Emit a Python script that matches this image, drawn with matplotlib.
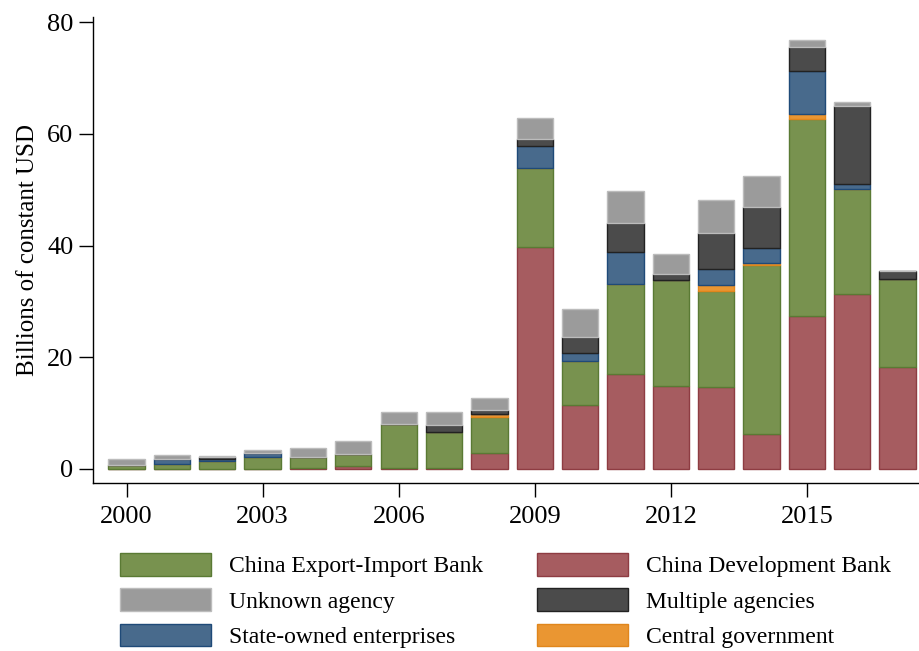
import matplotlib
matplotlib.use("Agg")
import matplotlib.pyplot as plt
import numpy as np

years = list(range(2000, 2018))

# Billions of constant USD, by lending agency (stacking order bottom -> top)
cdb      = [0.0, 0.0, 0.0, 0.0, 0.1, 0.54, 0.1, 0.1, 2.86, 39.7, 11.45, 17.05, 14.85, 14.6, 6.2, 27.4, 31.3, 18.2]
exim     = [0.66, 0.95, 1.43, 2.09, 2.0, 2.2, 7.9, 6.58, 6.5, 14.2, 7.8, 16.1, 18.95, 17.2, 30.3, 35.3, 18.8, 15.8]
central  = [0.0, 0.0, 0.0, 0.0, 0.0, 0.0, 0.0, 0.0, 0.54, 0.0, 0.0, 0.0, 0.0, 1.1, 0.3, 0.9, 0.0, 0.0]
soe      = [0.0, 0.9, 0.3, 0.77, 0.0, 0.0, 0.0, 0.0, 0.0, 3.9, 1.6, 5.6, 0.0, 2.9, 2.7, 7.6, 0.9, 0.0]
multiple = [0.0, 0.0, 0.36, 0.0, 0.0, 0.0, 0.0, 1.12, 0.65, 1.2, 2.75, 5.2, 1.14, 6.4, 7.4, 4.3, 14.0, 1.4]
unknown  = [1.2, 0.7, 0.24, 0.6, 1.6, 2.33, 2.25, 2.45, 2.2, 3.9, 4.95, 5.75, 3.56, 5.9, 5.5, 1.2, 0.7, 0.0]

series = [
    ("China Development Bank", cdb, "#a65c60", "#8e3c42"),
    ("China Export-Import Bank", exim, "#78924f", "#5a7a34"),
    ("Central government", central, "#ea9632", "#e0861c"),
    ("State-owned enterprises", soe, "#486a8c", "#1f4a78"),
    ("Multiple agencies", multiple, "#4b4b4b", "#222222"),
    ("Unknown agency", unknown, "#9b9b9b", "#bcbcbc"),
]

plt.rcParams['font.family'] = ['Liberation Serif', 'DejaVu Serif']

fig = plt.figure(figsize=(9.2, 6.51), dpi=100)
ax = fig.add_axes([93 / 920, 1 - 483.3 / 651, (918 - 93) / 920, (483.3 - 17) / 651])

x = np.array(years)
bottom = np.zeros(len(years))
handles = {}
for name, vals, fc, ec in series:
    v = np.array(vals)
    b = ax.bar(x, v, width=0.8, bottom=bottom, color=fc, edgecolor=ec, linewidth=1.0, label=name)
    handles[name] = b
    bottom += v

ax.set_xlim(1999.26, 2017.45)
ax.set_ylim(-2.56, 80.9)
ax.set_xticks([2000, 2003, 2006, 2009, 2012, 2015])
ax.set_yticks([0, 20, 40, 60, 80])
ax.tick_params(axis='both', labelsize=19, length=10, width=1.0, color='black')
ax.tick_params(axis='x', pad=6)
ax.tick_params(axis='y', pad=4)
for s in ['top', 'right']:
    ax.spines[s].set_visible(False)
for s in ['left', 'bottom']:
    ax.spines[s].set_linewidth(1.0)
ax.set_ylabel("Billions of constant USD", fontsize=18, labelpad=6)

order = ["China Export-Import Bank", "Unknown agency", "State-owned enterprises",
         "China Development Bank", "Multiple agencies", "Central government"]
leg = fig.legend([handles[n] for n in order], order, ncol=2, loc='upper left',
                 bbox_to_anchor=(113 / 920, 1 - 546 / 651), frameon=False,
                 fontsize=17, handlelength=3.85, handleheight=1.1,
                 handletextpad=0.75, columnspacing=2.3, labelspacing=0.46,
                 borderaxespad=0, borderpad=0.3)

fig.savefig("out.png", dpi=100)
